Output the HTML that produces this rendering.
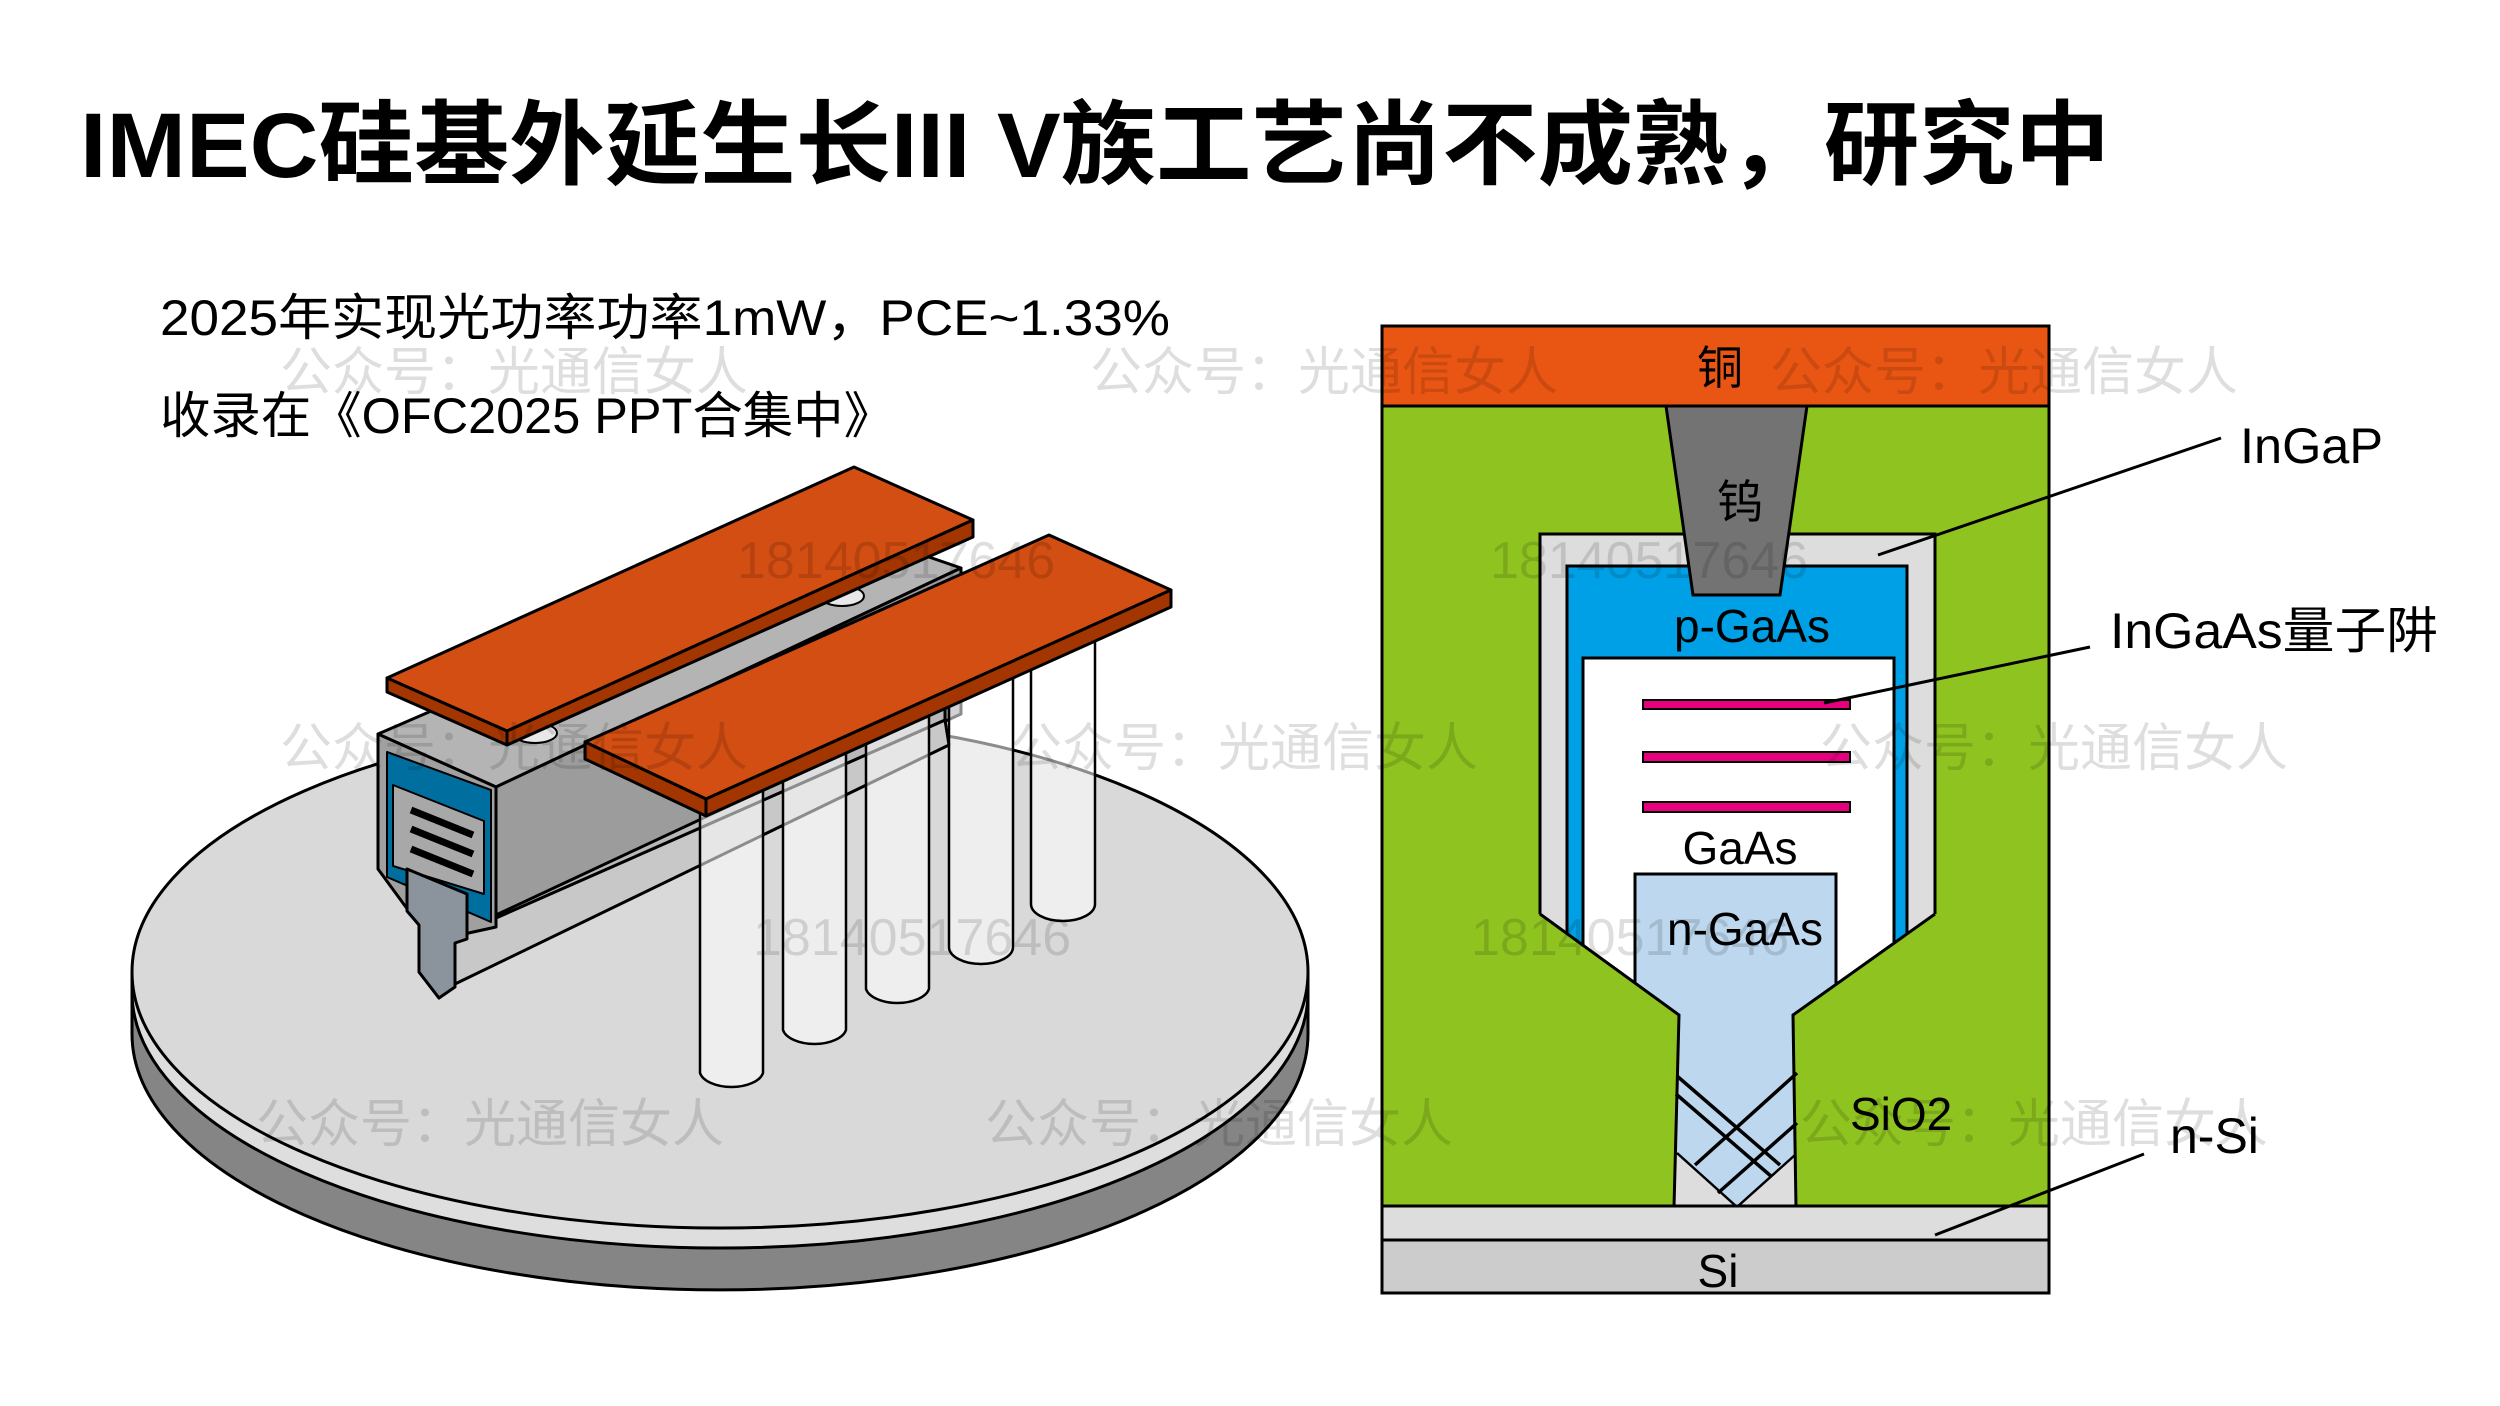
<!DOCTYPE html>
<html><head><meta charset="utf-8"><style>
html,body{margin:0;padding:0;background:#fff;}
svg{display:block;}
text{font-family:"Liberation Sans","Noto Sans CJK SC",sans-serif;}
.wm{font-family:"Liberation Serif","Noto Serif CJK SC",serif;fill:#000;fill-opacity:0.13;font-size:52px;}
</style></head><body>
<svg width="2500" height="1406" viewBox="0 0 2500 1406" xmlns="http://www.w3.org/2000/svg">
<rect width="2500" height="1406" fill="#fff"/>
<!-- Title -->
<text x="80" y="177" font-size="92" font-weight="bold" textLength="2030" lengthAdjust="spacingAndGlyphs">IMEC硅基外延生长III V族工艺尚不成熟，研究中</text>
<text x="160" y="335" font-size="50" textLength="1010" lengthAdjust="spacingAndGlyphs">2025年实现光功率功率1mW，PCE~1.33%</text>
<text x="160" y="433" font-size="50" textLength="734" lengthAdjust="spacingAndGlyphs">收录在《OFC2025 PPT合集中》</text>

<!-- LEFT 3D -->
<g stroke="#000" stroke-width="3" stroke-linejoin="round">
<path d="M132,972 L132,1034 A588,256 0 0 0 1308,1034 L1308,972 Z" fill="#858585"/>
<ellipse cx="720" cy="992" rx="588" ry="256" fill="#dedede"/>
<ellipse cx="720" cy="972" rx="588" ry="256" fill="#d9d9d9"/>
<!-- body -->
<polygon points="378,734 850,530 961,568 496,787" fill="#b4b4b4"/>
<polygon points="496,787 961,568 961,714 496,927" fill="#9c9c9c"/>
<polygon points="455,936 945,720 949,745 455,984" fill="#c8c8c8"/>
<polygon points="455,936 496,915 945,705 945,720" fill="#b8b8b8"/>
<polygon points="378,734 496,787 496,927 455,936 455,984 439,998 419,972 419,925 378,869" fill="#a0a0a0"/>
<polygon points="387,752 491,790 491,922 387,877" fill="#006fa0" stroke-width="2"/>
<polygon points="393,785 484,821 484,894 393,866" fill="#a8a8a8" stroke-width="2"/>
<line x1="411" y1="810" x2="473" y2="835" stroke-width="7"/>
<line x1="411" y1="829" x2="473" y2="854" stroke-width="7"/>
<line x1="411" y1="849" x2="473" y2="874" stroke-width="7"/>
<polygon points="407,869 467,894 467,939 455,943 455,987 439,998 419,972 419,925 407,911" fill="#8b949c"/>
<ellipse cx="842" cy="596" rx="22" ry="10" fill="#e8e8e8" stroke-width="2"/>
<ellipse cx="535" cy="733" rx="22" ry="10" fill="#e8e8e8" stroke-width="2"/>
<!-- bar 1 -->
<polygon points="387,678 854,467 973,520 507,731" fill="#d24e12"/>
<polygon points="387,678 507,731 507,745 387,692" fill="#a33500"/>
<polygon points="507,731 973,520 973,537 507,745" fill="#a33500"/>
<!-- pillars -->
<g fill="#fff" fill-opacity="0.55" stroke-width="2.5">
<path d="M1031,640 L1031,904 A32,17 0 0 0 1095,904 L1095,610"/>
<path d="M949,690 L949,947 A32,17 0 0 0 1013,947 L1013,660"/>
<path d="M866,730 L866,989 A32,17 0 0 0 929,989 L929,700"/>
<path d="M783,770 L783,1030 A32,17 0 0 0 846,1030 L846,740"/>
<path d="M700,810 L700,1073 A32,17 0 0 0 763,1073 L763,790"/>
</g>
<!-- bar 2 -->
<polygon points="585,742 1049,535 1171,590 706,799" fill="#d24e12"/>
<polygon points="585,742 706,799 706,816 585,759" fill="#a33500"/>
<polygon points="706,799 1171,590 1171,607 706,816" fill="#a33500"/>
</g>

<!-- RIGHT cross-section -->
<g stroke="#000" stroke-width="3">
<rect x="1382" y="406" width="667" height="800" fill="#8fc320"/>
<rect x="1540" y="534" width="395" height="640" fill="#dcdddc"/>
<rect x="1567" y="566" width="340" height="600" fill="#00a0e6"/>
<rect x="1583" y="658" width="311" height="520" fill="#fff"/>
<rect x="1635" y="874" width="201" height="340" fill="#bdd7ee"/>
<polygon points="1674,1153 1737,1207 1796,1155 1796,1207 1674,1207" fill="#dcdddc" stroke="none"/>
<polyline points="1677,1153 1737,1207 1795,1155" fill="none" stroke-width="2.5"/>
<polygon points="1536,912 1679,1015 1674,1207 1530,1207" fill="#8fc320" stroke="none"/>
<polygon points="1938,912 1793,1015 1796,1207 1940,1207" fill="#8fc320" stroke="none"/>
<polyline points="1540,914 1679,1015 1674,1207" fill="none"/>
<polyline points="1935,914 1793,1015 1796,1207" fill="none"/>
<rect x="1540" y="534" width="395" height="380" fill="none" stroke="none"/>
<line x1="1540" y1="534" x2="1540" y2="914"/><line x1="1935" y1="534" x2="1935" y2="914"/>
<g stroke-width="3.5">
<line x1="1677" y1="1076" x2="1780" y2="1165"/>
<line x1="1676" y1="1094" x2="1772" y2="1177"/>
<line x1="1797" y1="1073" x2="1695" y2="1165"/>
<line x1="1797" y1="1123" x2="1718" y2="1193"/>
</g>
<rect x="1382" y="326" width="667" height="80" fill="#e95513"/>
<polygon points="1666,406 1807,406 1780,595 1693,595" fill="#737373"/>
<rect x="1643" y="700" width="207" height="9" fill="#e6007e" stroke-width="2"/>
<rect x="1643" y="752" width="207" height="10" fill="#e6007e" stroke-width="2"/>
<rect x="1643" y="802" width="207" height="10" fill="#e6007e" stroke-width="2"/>
<rect x="1382" y="1206" width="667" height="34" fill="#dcdddc"/>
<rect x="1382" y="1240" width="667" height="53" fill="#cbcccb"/>
<line x1="2221" y1="438" x2="1878" y2="555"/>
<line x1="2090" y1="647" x2="1824" y2="703"/>
<line x1="2144" y1="1154" x2="1935" y2="1235"/>
</g>
<g font-size="46" fill="#000" text-anchor="middle">
<text x="1720" y="384">铜</text>
<text x="1740" y="518">钨</text>
<text x="1752" y="642">p-GaAs</text>
<text x="1740" y="864">GaAs</text>
<text x="1745" y="945">n-GaAs</text>
<text x="1718" y="1287">Si</text>
</g>
<g font-size="50" fill="#000">
<text x="1850" y="1130" font-size="46">SiO2</text>
<text x="2170" y="1153">n-Si</text>
<text x="2240" y="463" textLength="143" lengthAdjust="spacingAndGlyphs">InGaP</text>
<text x="2110" y="648" textLength="328" lengthAdjust="spacingAndGlyphs">InGaAs量子阱</text>
</g>

<!-- watermarks -->
<g class="wm">
<text x="280" y="390">公众号：光通信女人</text>
<text x="1090" y="390">公众号：光通信女人</text>
<text x="1770" y="390">公众号：光通信女人</text>
<text x="280" y="766">公众号：光通信女人</text>
<text x="1010" y="766">公众号：光通信女人</text>
<text x="1820" y="766">公众号：光通信女人</text>
<text x="256" y="1142">公众号：光通信女人</text>
<text x="985" y="1142">公众号：光通信女人</text>
<text x="1800" y="1142">公众号：光通信女人</text>
<text x="737" y="578">18140517646</text>
<text x="1490" y="578">18140517646</text>
<text x="753" y="955">18140517646</text>
<text x="1471" y="955">18140517646</text>
</g>
</svg>
</body></html>
